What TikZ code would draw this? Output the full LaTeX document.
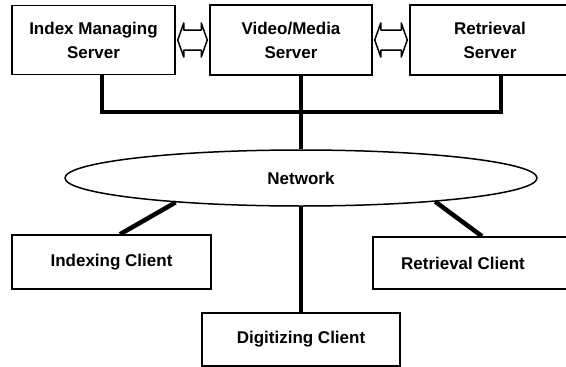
\documentclass[tikz,border=0pt]{standalone}
\usepackage{fontspec}
\setmainfont{Liberation Sans}
\usepackage{tikz}
\usetikzlibrary{arrows.meta, shapes.geometric, positioning, calc}

% freccia doppia vuota tra due box
\newcommand{\twoway}[2]{%
  \draw[link] ($(#1.east)+(2,0)$) -- ++(6,-17) -- ++(0,7)
    -- ($(#2.west)+(-8,-10)$) -- ++(0,-7) -- ($(#2.west)+(-2,0)$)
    -- ++(-6,17) -- ++(0,-7) -- ($(#1.east)+(8,10)$) -- ++(0,7) -- cycle;}

\begin{document}
\begin{tikzpicture}[x=1pt, y=-1pt,
    box/.style={draw, line width=1.5pt, inner sep=0pt, align=center,
      font=\fontsize{17}{24}\selectfont\bfseries},
    bus/.style={line width=4.5pt},
    link/.style={line width=1.5pt, line join=round}]
    \useasboundingbox (0,0) rectangle (566,367);

    % Server
    \node[box, minimum width=163pt, minimum height=69pt] (ims) at (93.5,40) {Index Managing\\Server};
    \node[box, minimum width=162pt, minimum height=70pt] (vms) at (291,40) {Video/Media\\Server};
    \node[box, minimum width=160pt, minimum height=70pt] (rs) at (490,40) {Retrieval\\Server};
    \twoway{ims}{vms}
    \twoway{vms}{rs}

    % Bus
    \coordinate (busL) at (102,112);
    \coordinate (busR) at (501,112);
    \draw[bus] (ims.south -| busL) -- (busL) -- (busR) -- (rs.south -| busR);

    % Rete
    \node[box, ellipse, minimum width=472pt, minimum height=56pt] (net) at (301,178) {Network};
    \draw[bus] (vms.south -| net) -- (net.north);

    % Client
    \node[box, minimum width=199pt, minimum height=54pt] (ic) at (111.5,262) {Indexing Client};
    \node[box, minimum width=200pt, minimum height=52pt] (rc) at (473,263) {\hspace*{-20pt}Retrieval Client};
    \node[box, minimum width=198pt, minimum height=53pt] (dc) at (301,339.5) {Digitizing Client};
    \draw[bus] (net.191) -- ($(ic.north)+(8.5,0)$);
    \draw[bus] (net.-10) -- ($(rc.north)+(9,0)$);
    \draw[bus] (net.south) -- (dc.north);
\end{tikzpicture}
\end{document}
